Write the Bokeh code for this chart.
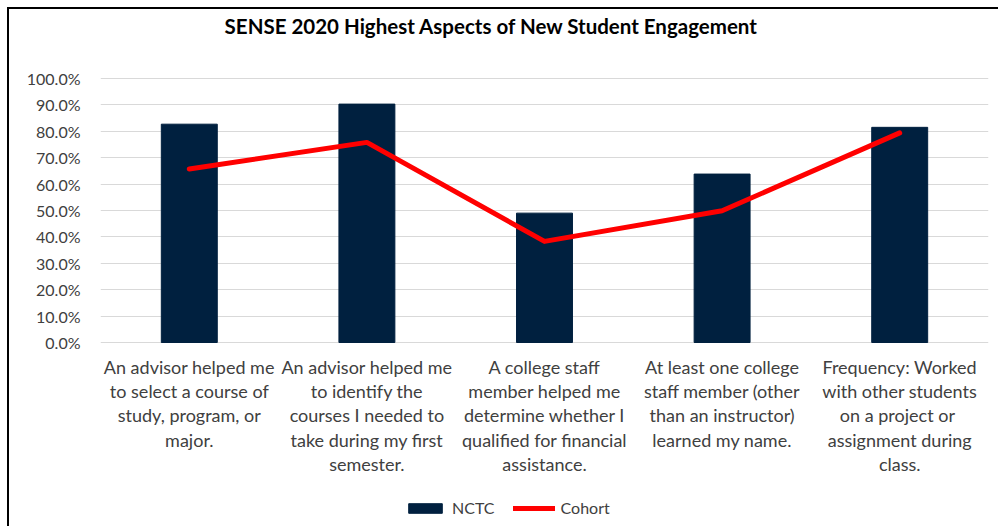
from bokeh.plotting import figure
from bokeh.models import Range1d, NumeralTickFormatter, Legend, LegendItem, Label, ColumnDataSource, FixedTicker
from bokeh.core.properties import value
from bokeh.embed import file_html
from bokeh.resources import INLINE

categories = [
    "An advisor helped me\nto select a course of\nstudy, program, or\nmajor.",
    "An advisor helped me\nto identify the\ncourses I needed to\ntake during my first\nsemester.",
    "A college staff\nmember helped me\ndetermine whether I\nqualified for financial\nassistance.",
    "At least one college\nstaff member (other\nthan an instructor)\nlearned my name.",
    "Frequency: Worked\nwith other students\non  a project or\nassignment during\nclass.",
]
nctc = [0.827, 0.903, 0.490, 0.638, 0.815]
cohort = [0.657, 0.758, 0.383, 0.499, 0.794]
y_ticks = [0.0, 0.1, 0.2, 0.3, 0.4, 0.5, 0.6, 0.7, 0.8, 0.9, 1.0]
title_text = "SENSE 2020 Highest Aspects of New Student Engagement"

FONT = "Lato"
OFF = 9                 # chart box starts here on the page
W, H = 1000 - OFF, 531 - OFF - 3
ZERO_Y = 342 - OFF      # px from top of figure where 0% lies
FULL_Y = 78 - OFF       # px from top of figure where 100% lies
PX_PER_UNIT = (ZERO_Y - FULL_Y)
LEGEND_BOTTOM = 517     # page px

src = ColumnDataSource(dict(cat=categories, nctc=nctc, cohort=cohort, base=[0.0] * len(categories)))

p = figure(x_range=categories,
           y_range=Range1d(-(H - ZERO_Y) / PX_PER_UNIT, ZERO_Y / PX_PER_UNIT),
           width=W, height=H, output_backend="svg", toolbar_location=None,
           min_border_left=100 - OFF, min_border_right=W - (988 - OFF), min_border_top=0,
           min_border_bottom=0,
           styles={"margin-left": f"{OFF}px", "margin-top": f"{OFF}px",
                   "box-shadow": "-2px -2px 0px 0px #000000"})
p.outline_line_color = None
p.background_fill_color = "white"
p.border_fill_color = "white"

bars = p.vbar(x="cat", top="nctc", width=0.315, source=src,
              fill_color="#00203F", line_color="#00203F")
line = p.line(x="cat", y="cohort", source=src, line_color="#FF0000", line_width=5,
              line_cap="round", line_join="round")

# category labels, placed under the 0% line
p.text(x="cat", y="base", text="cat", source=src, y_offset=13,
       text_align="center", text_baseline="top",
       text_font=value(FONT), text_font_size="18px", text_color="#404040",
       text_line_height=1.11)

p.xaxis.visible = False

p.yaxis.ticker = FixedTicker(ticks=y_ticks)
p.yaxis.formatter = NumeralTickFormatter(format="0.0%")
p.yaxis.axis_line_color = None
p.yaxis.major_tick_line_color = None
p.yaxis.major_tick_out = 0
p.yaxis.major_tick_in = 0
p.yaxis.minor_tick_line_color = None
p.yaxis.major_label_standoff = 20
p.yaxis.major_label_text_font = FONT
p.yaxis.major_label_text_font_size = "16px"
p.yaxis.major_label_text_color = "#404040"

p.xgrid.grid_line_color = None
p.ygrid.ticker = FixedTicker(ticks=y_ticks)
p.ygrid.grid_line_color = "#d9d9d9"
p.ygrid.grid_line_width = 1

legend = Legend(items=[LegendItem(label="NCTC", renderers=[bars]),
                       LegendItem(label="Cohort", renderers=[line])],
                orientation="horizontal", location=(304, (H + OFF) - LEGEND_BOTTOM),
                padding=0, margin=0, spacing=18, label_standoff=6,
                glyph_width=42, glyph_height=12,
                border_line_color=None, background_fill_alpha=0,
                label_text_font=FONT, label_text_font_size="16px",
                label_text_color="#404040")
p.add_layout(legend, "center")

title = Label(x=491 - 100, y=H - (25 - OFF), x_units="screen", y_units="screen",
              text=title_text, text_align="center", text_baseline="middle",
              text_font=FONT, text_font_style="bold", text_font_size="20.5px",
              text_color="black")
p.add_layout(title)

open("out.html", "w").write(file_html(p, INLINE))
